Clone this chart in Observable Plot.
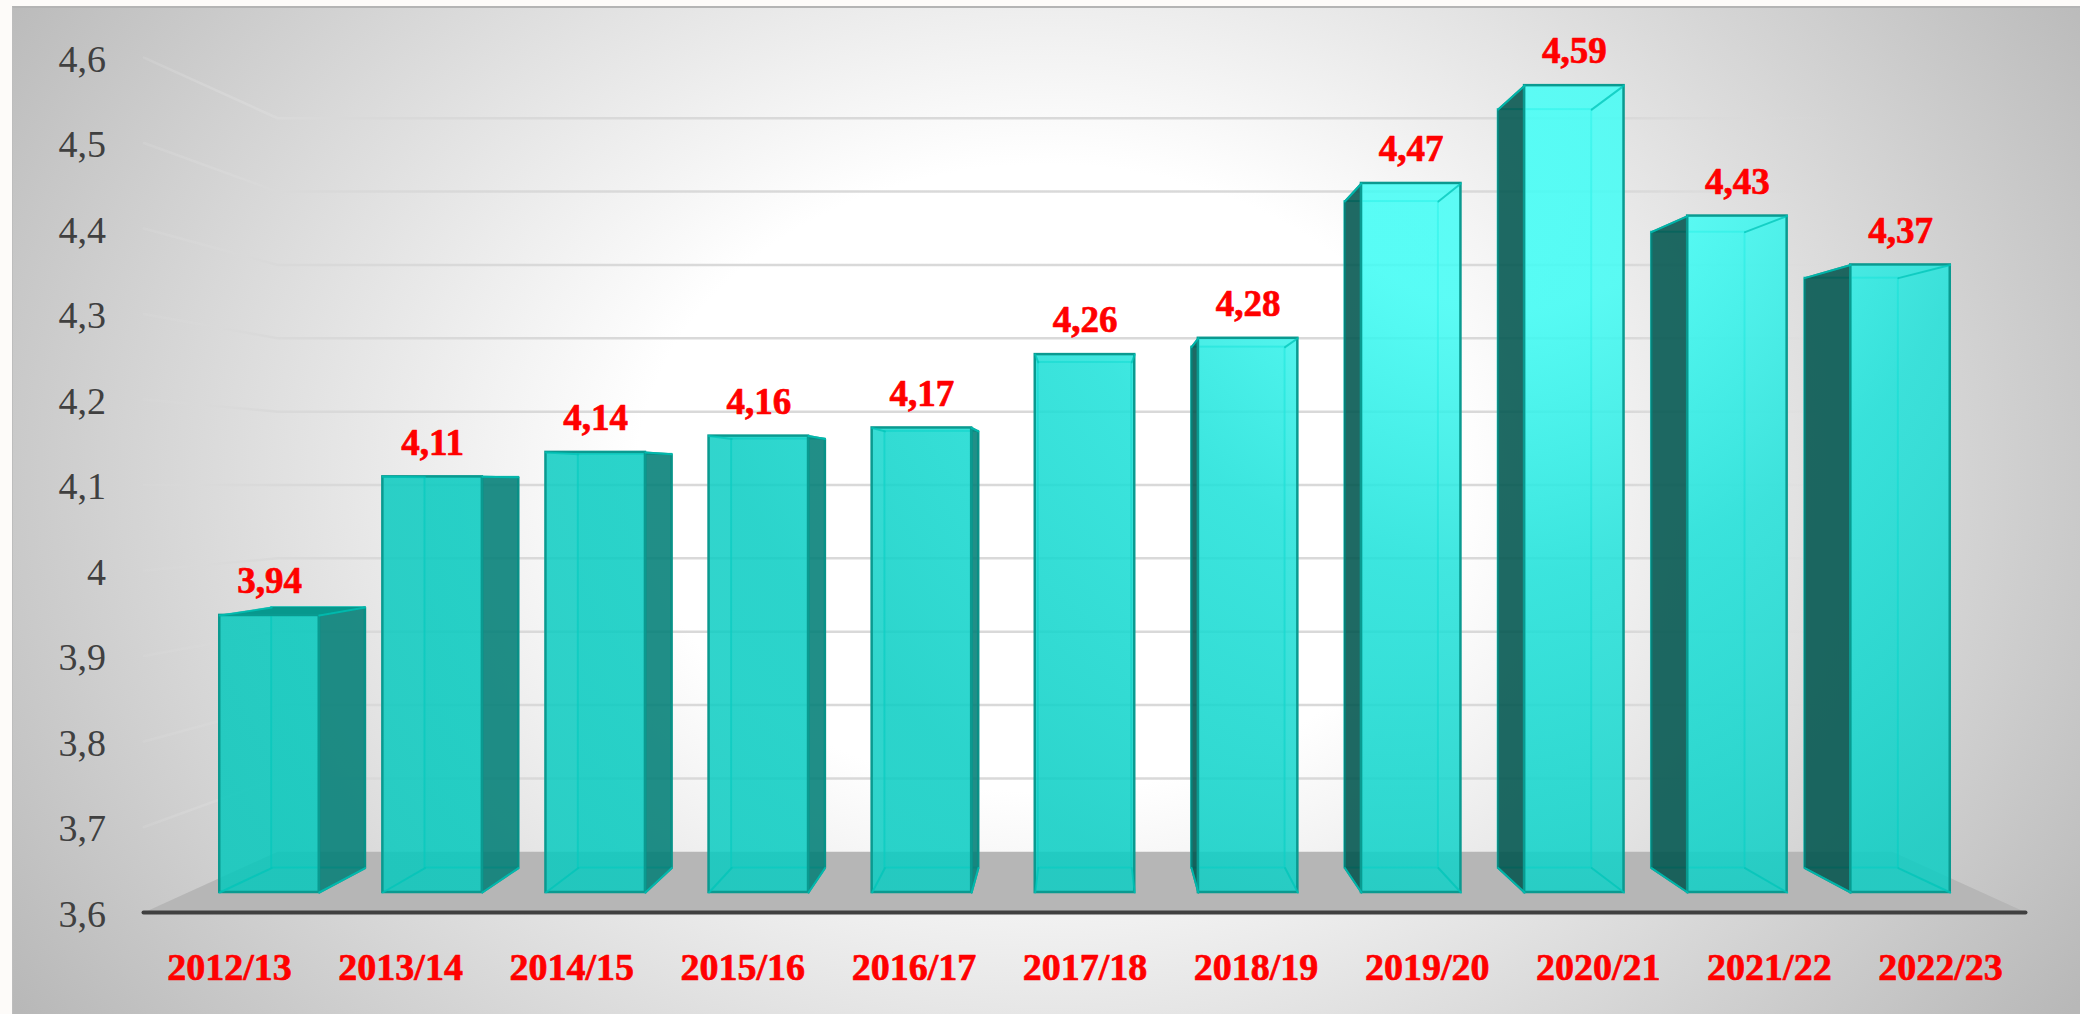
<!DOCTYPE html>
<html>
<head>
<meta charset="utf-8">
<script src="https://cdn.jsdelivr.net/npm/d3@7"></script>
<script src="https://cdn.jsdelivr.net/npm/@observablehq/plot@0.6"></script>
<style>
  html, body { margin: 0; padding: 0; width: 2080px; height: 1014px; overflow: hidden; background: #fdfbf9; }
  #panel {
    position: absolute; left: 12px; top: 6px; width: 2068px; height: 1008px; box-sizing: border-box;
    border-top: 2px solid #b4b4b4; border-left: 1px solid #bdbdbd;
    background: radial-gradient(ellipse 1240px 950px at 1033px 470px, #ffffff 0%, #ffffff 33%, #b8b8b8 100%);
  }
  #chart { position: absolute; left: 0; top: 0; }
  g[aria-label="value labels"], g[aria-label="category labels"] {
    filter: drop-shadow(1.5px 2px 1.2px rgba(0,0,0,.42));
  }
</style>
</head>
<body>
<div id="panel"></div>
<div id="chart"></div>
<script>
const categories = ["2012/13","2013/14","2014/15","2015/16","2016/17","2017/18","2018/19","2019/20","2020/21","2021/22","2022/23"];
const values = [3.94,4.11,4.14,4.16,4.17,4.26,4.28,4.47,4.59,4.43,4.37];
const axisTicks = [3.6,3.7,3.8,3.9,4,4.1,4.2,4.3,4.4,4.5,4.6];

// Perspective of the 3-D box: depth factors relative to the bars' front plane
const VANISH_I = 5, VANISH_V = 4.1;
const AXIS_PLANE = 1.049, BAR_BACK = 0.94, WALL = 0.9;
const HALF = 0.305, BASE = 3.6, EDGE_L = -0.5, EDGE_R = 10.5;
const px = (i, s) => VANISH_I + (i - VANISH_I) * s;
const py = (v, s) => VANISH_V + (v - VANISH_V) * s;
const pt = (id, i, v, s) => ({id, x: px(i, s), y: py(v, s)});
const quad = (id, c) => [...c, c[0]].map(([i, v, s]) => pt(id, i, v, s));

const bars = values.map((v, i) => ({i, v, label: v.toFixed(2).replace(".", ","), cat: categories[i]}));
const faces = (fn) => bars.flatMap(fn);

const rightSides = faces(({i, v}) => i < VANISH_I ? quad("r" + i, [[i+HALF,BASE,1],[i+HALF,v,1],[i+HALF,v,BAR_BACK],[i+HALF,BASE,BAR_BACK]]) : []);
const leftSides  = faces(({i, v}) => i > VANISH_I ? quad("l" + i, [[i-HALF,BASE,1],[i-HALF,v,1],[i-HALF,v,BAR_BACK],[i-HALF,BASE,BAR_BACK]]) : []);
const topFaces   = faces(({i, v}) => v < VANISH_V ? quad("t" + i, [[i-HALF,v,1],[i+HALF,v,1],[i+HALF,v,BAR_BACK],[i-HALF,v,BAR_BACK]]) : []);
const innerEdges = faces(({i, v}) => [
  pt("a"+i, i-HALF, BASE, 1), pt("a"+i, i-HALF, BASE, BAR_BACK),
  pt("b"+i, i+HALF, BASE, 1), pt("b"+i, i+HALF, BASE, BAR_BACK),
  pt("c"+i, i-HALF, v, 1), pt("c"+i, i-HALF, v, BAR_BACK),
  pt("d"+i, i+HALF, v, 1), pt("d"+i, i+HALF, v, BAR_BACK)
]);
const floor = quad("floor", [[EDGE_L,BASE,AXIS_PLANE],[EDGE_R,BASE,AXIS_PLANE],[EDGE_R,BASE,WALL],[EDGE_L,BASE,WALL]]);
const grid = axisTicks.slice(1).flatMap((t) => [
  pt("g"+t, EDGE_L, t, AXIS_PLANE), pt("g"+t, EDGE_L, t, WALL), pt("g"+t, EDGE_R, t, WALL)
]);
const gradients = (index, scales, vals, dims) => {
  const defs = d3.create("svg:defs");
  const g = defs.append("radialGradient").attr("id", "barFace").attr("gradientUnits", "userSpaceOnUse")
    .attr("cx", scales.x(7.6)).attr("cy", scales.y(4.6)).attr("r", dims.width * 0.7);
  [[0,"#44fff7"],[0.16,"#40fcf4"],[0.34,"#20e2da"],[0.6,"#0dcec4"],[1,"#06c8bc"]].forEach(([o,c]) =>
    g.append("stop").attr("offset", o).attr("stop-color", c));
  const f = defs.append("linearGradient").attr("id", "gridFade").attr("gradientUnits", "userSpaceOnUse")
    .attr("x1", scales.x(px(EDGE_L, AXIS_PLANE))).attr("x2", scales.x(px(EDGE_R, WALL))).attr("y1", 0).attr("y2", 0);
  [[0,0.3],[0.08,1],[0.85,1],[0.97,0]].forEach(([o,a]) =>
    f.append("stop").attr("offset", o).attr("stop-color", "#d9d9d9").attr("stop-opacity", a));
  return defs.node();
};
const font = "'Liberation Serif', serif";

const plot = Plot.plot({
  width: 2080, height: 1014,
  marginTop: 0, marginBottom: 0, marginLeft: 0, marginRight: 0,
  x: {type: "linear", domain: [0, 10], range: [269, 1900], axis: null},
  y: {type: "linear", domain: [3.6, 4.6], range: [892, 77], axis: null},
  style: {background: "transparent", overflow: "visible"},
  marks: [
    gradients,
    Plot.line(floor, {x: "x", y: "y", z: "id", fill: "#b6b6b6", stroke: "none"}),
    Plot.line(grid, {x: "x", y: "y", z: "id", stroke: "url(#gridFade)", strokeWidth: 2.5}),
    Plot.ruleY([py(BASE, AXIS_PLANE)], {x1: px(EDGE_L, AXIS_PLANE), x2: px(EDGE_R, AXIS_PLANE), stroke: "#404040", strokeWidth: 4, strokeLinecap: "round"}),
    // back faces
    Plot.rect(bars, {
      x1: d => px(d.i - HALF, BAR_BACK), x2: d => px(d.i + HALF, BAR_BACK),
      y1: py(BASE, BAR_BACK), y2: d => py(d.v, BAR_BACK),
      fill: "url(#barFace)", fillOpacity: 0.15, stroke: "#00c4b8", strokeOpacity: 0.75, strokeWidth: 2
    }),
    Plot.line(topFaces, {x: "x", y: "y", z: "id", fill: "#07988d", stroke: "#07988d", strokeWidth: 1.5}),
    Plot.line(rightSides, {x: "x", y: "y", z: "id", fill: "#057e76", fillOpacity: 0.87, stroke: "#089288", strokeWidth: 2}),
    Plot.line(leftSides, {x: "x", y: "y", z: "id", fill: "#02544d", fillOpacity: 0.87, stroke: "#06827a", strokeWidth: 2}),
    // front faces
    Plot.rect(bars, {
      x1: d => d.i - HALF, x2: d => d.i + HALF, y1: BASE, y2: "v",
      fill: "url(#barFace)", fillOpacity: 0.85, stroke: "#0a9a90", strokeWidth: 2.5
    }),
    Plot.line(innerEdges, {x: "x", y: "y", z: "id", stroke: "#00c4b8", strokeOpacity: 0.75, strokeWidth: 2}),
    // labels
    Plot.text(bars, {
      x: "i", y: "v", text: "label", dy: -34, lineAnchor: "middle", textAnchor: "middle",
      fill: "#ff0000", stroke: "#ff0000", strokeWidth: 0.7, fontFamily: font, fontWeight: "bold", fontSize: 37, ariaLabel: "value labels"
    }),
    Plot.text(bars, {
      x: d => px(d.i, AXIS_PLANE), y: py(BASE, AXIS_PLANE), text: "cat", dy: 55, lineAnchor: "middle", textAnchor: "middle",
      fill: "#ff0000", stroke: "#ff0000", strokeWidth: 0.7, fontFamily: font, fontWeight: "bold", fontSize: 38, ariaLabel: "category labels"
    }),
    Plot.text(axisTicks, {
      x: px(EDGE_L, AXIS_PLANE), y: d => py(d, AXIS_PLANE), text: d => String(d).replace(".", ","),
      dx: -38, dy: 2, lineAnchor: "middle", textAnchor: "end",
      fill: "#404040", fontFamily: font, fontSize: 38, ariaLabel: "y-axis tick labels"
    })
  ]
});
document.getElementById("chart").appendChild(plot);
</script>
</body>
</html>
